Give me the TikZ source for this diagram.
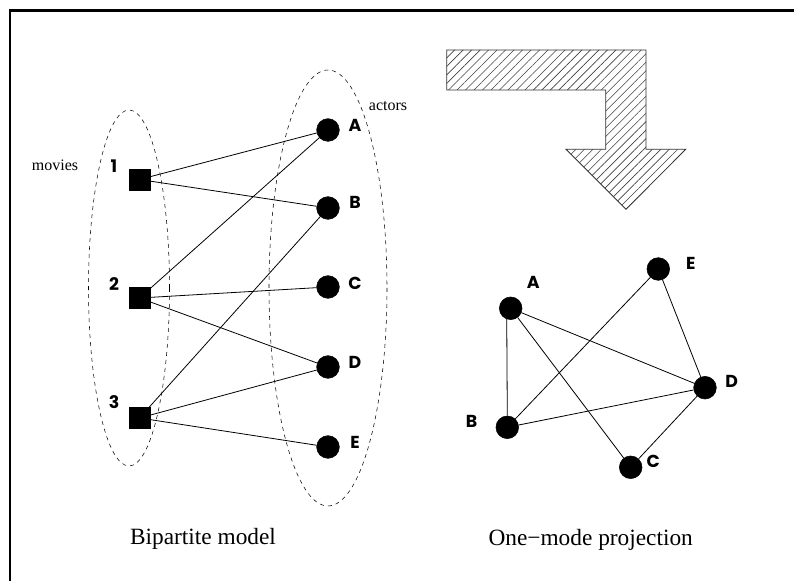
\documentclass[tikz,border=0pt]{standalone}
\usepackage{fontspec}
\setmainfont{Liberation Serif}
\newfontfamily\lblfont{Poppins}
\usetikzlibrary{patterns.meta,shapes}
\tikzstyle{movie}=[draw,fill=black,rectangle,minimum size=15.5pt,inner sep=0pt]
\tikzstyle{actor}=[draw,fill=black,circle,minimum size=17pt,inner sep=0pt]
\tikzstyle{lbl}=[font=\lblfont\bfseries\fontsize{13}{13}\selectfont]
\tikzstyle{tag}=[font=\fontsize{12}{12}\selectfont]
\tikzstyle{caption}=[font=\fontsize{17.5}{18}\selectfont]
\tikzstyle{tie}=[line width=0.6pt]
\tikzstyle{group}=[dashed,thin]
\tikzstyle{hatched}=[line width=0.6pt,draw=black!80,
                     pattern={Lines[angle=45,distance=4.5pt,line width=0.45pt]},
                     pattern color=black!75]

\begin{document}
\begin{tikzpicture}[x=0.75pt,y=-0.75pt]

  % Page (pixel grid, origin at the top left)
  \useasboundingbox (0,0) rectangle (794,581);
  \draw[line width=2pt] (10,581) -- (10,10.5) -- (794,10.5);

  % Groups
  \draw[group] (129,288) ellipse (40.5 and 178);
  \draw[group] (328,288) ellipse (59 and 218);
  \node[tag] at (55,165) (movies) {movies};
  \node[tag] at (388,106) (actors) {actors};

  % Bipartite nodes
  \node[movie] at (139.5,179.5) (m1) {};
  \node[movie] at (139.5,298) (m2) {};
  \node[movie] at (139.5,418) (m3) {};
  \node[lbl] at (114,166) {1};
  \node[lbl] at (114,284) {2};
  \node[lbl] at (114,402) {3};

  \node[actor] at (328,130) (a) {};
  \node[actor] at (328,208) (b) {};
  \node[actor] at (328,287) (c) {};
  \node[actor] at (328,367) (d) {};
  \node[actor] at (328,447) (e) {};
  \node[lbl] at (355,125) {A};
  \node[lbl] at (355,202) {B};
  \node[lbl] at (355,283) {C};
  \node[lbl] at (355,362) {D};
  \node[lbl] at (355,442) {E};

  \draw[tie] (m1) -- (a);
  \draw[tie] (m1) -- (b);
  \draw[tie] (m2) -- (a);
  \draw[tie] (m2) -- (c);
  \draw[tie] (m2) -- (d);
  \draw[tie] (m3) -- (b);
  \draw[tie] (m3) -- (d);
  \draw[tie] (m3) -- (e);

  % Bent arrow
  \draw[hatched]
    (446.7,50) -- (646,50) -- (646,149.3) -- (685.7,149.3) -- (626,209.3)
    -- (566,149.3) -- (605.7,149.3) -- (605.7,90) -- (446.7,90) -- cycle;

  % Projection
  \node[actor] at (510.7,308.3) (pa) {};
  \node[actor] at (507.3,427.3) (pb) {};
  \node[actor] at (630.7,467.3) (pc) {};
  \node[actor] at (705,387.7) (pd) {};
  \node[actor] at (658.3,269) (pe) {};
  \node[lbl] at (533.3,282.7) {A};
  \node[lbl] at (471.7,421.7) {B};
  \node[lbl] at (653.3,461) {C};
  \node[lbl] at (731.7,381.7) {D};
  \node[lbl] at (690.7,263.3) {E};

  \draw[tie] (pa.250) -- (pb.north);
  \draw[tie] (pa) -- (pc);
  \draw[tie] (pa) -- (pd);
  \draw[tie] (pb) -- (pe);
  \draw[tie] (pb) -- (pd);
  \draw[tie] (pe) -- (pd);
  \draw[tie] (pd) -- (pc);

  % Captions
  \node[caption] at (203,539) (left) {Bipartite model};
  \node[caption] at (590.7,540) (right) {One\textminus mode projection};

\end{tikzpicture}
\end{document}
